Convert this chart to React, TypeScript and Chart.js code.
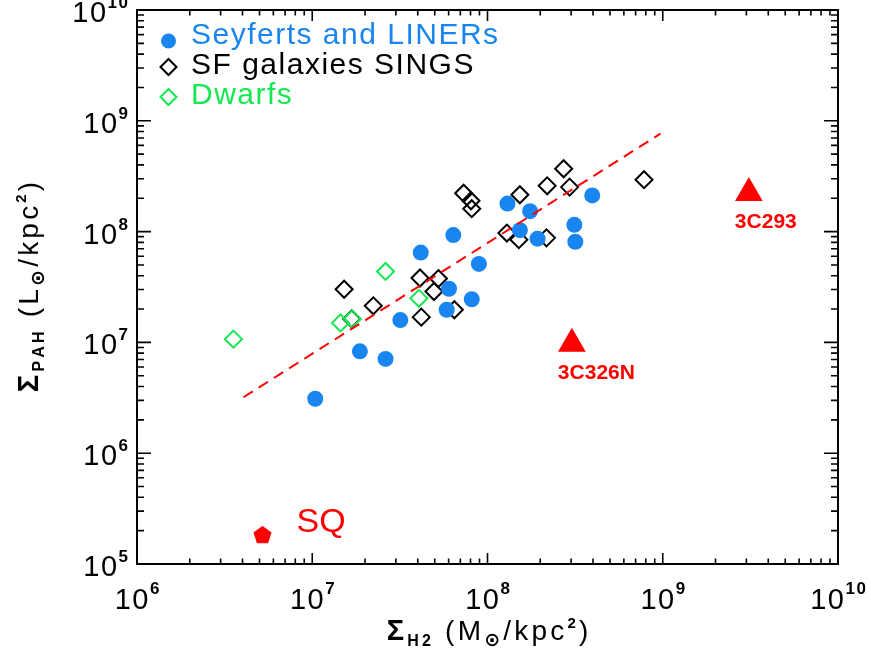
import React, { useEffect, useRef } from 'react';
import { Chart, registerables } from 'chart.js';

Chart.register(...registerables);

// ---------- data ----------
const seyfertsX = [1.04e7, 1.87e7, 2.62e7, 3.18e7, 4.16e7, 6.38e7, 8.93e7, 6.03e7, 5.85e7, 8.13e7, 1.30e8, 1.75e8, 1.53e8, 1.93e8, 3.13e8, 3.17e8, 3.96e8];
const seyfertsY = [3.1e6, 8.3e6, 7.1e6, 1.59e7, 6.47e7, 9.3e7, 5.11e7, 3.05e7, 1.97e7, 2.45e7, 1.79e8, 1.53e8, 1.03e8, 8.64e7, 1.15e8, 8.1e7, 2.12e8];

const singsX = [2.72e8, 2.19e8, 2.94e8, 1.53e8, 7.82e8, 7.31e7, 8.05e7, 8.13e7, 1.29e8, 1.51e8, 2.17e8, 1.52e7, 2.23e7, 4.12e7, 5.25e7, 4.95e7, 4.19e7, 6.47e7, 1.68e7];
const singsY = [3.69e8, 2.59e8, 2.52e8, 2.15e8, 2.94e8, 2.22e8, 1.90e8, 1.61e8, 9.7e7, 8.46e7, 8.78e7, 3.02e7, 2.14e7, 3.81e7, 3.77e7, 2.88e7, 1.69e7, 1.97e7, 1.63e7];

const dwarfsX = [3.55e6, 2.62e7, 4.06e7, 1.45e7, 1.69e7];
const dwarfsY = [1.07e7, 4.37e7, 2.5e7, 1.50e7, 1.63e7];

const radioNames = ['3C326N', '3C293'];
const radioX = [3.03e8, 3.1e9];
const radioY = [9.7e6, 2.23e8];

const sqNames = ['SQ'];
const sqX = [5.2e6];
const sqY = [1.85e5];

const fitX = [4.05e6, 9.7e8];
const fitY = [3.2e6, 7.65e8];

const xTickExponents = [6, 7, 8, 9, 10];
const yTickExponents = [5, 6, 7, 8, 9, 10];

const legendLabels = ['Seyferts and LINERs', 'SF galaxies SINGS', 'Dwarfs'];

// ---------- styles ----------
const BLUE = 'rgb(25,133,240)';
const GREEN = 'rgb(20,232,80)';
const RED = 'rgb(255,0,0)';
const FONT = '"Liberation Sans", "DejaVu Sans", sans-serif';

const toPts = (xs: number[], ys: number[]) => xs.map((x, i) => ({ x, y: ys[i] }));

function makePentagon(r: number, color: string) {
  const c = document.createElement('canvas');
  const size = Math.ceil(2 * r) + 2;
  c.width = size;
  c.height = size;
  const g = c.getContext('2d')!;
  g.fillStyle = color;
  g.beginPath();
  for (let i = 0; i < 5; i++) {
    const a = -Math.PI / 2 + (i * 2 * Math.PI) / 5;
    g.lineTo(size / 2 + r * Math.cos(a), size / 2 + 1 + r * Math.sin(a));
  }
  g.closePath();
  g.fill();
  return c;
}

type Seg = { t: string; size: number; dy: number; bold?: boolean };

function segWidth(ctx: CanvasRenderingContext2D, segs: Seg[], spacing: number) {
  let w = 0;
  for (const s of segs) {
    ctx.font = `${s.bold ? 'bold ' : ''}${s.size}px ${FONT}`;
    for (const ch of s.t) w += ctx.measureText(ch).width + spacing;
  }
  return w - spacing;
}

function drawSegs(ctx: CanvasRenderingContext2D, segs: Seg[], x: number, y: number, spacing: number) {
  let cx = x;
  ctx.textAlign = 'left';
  ctx.textBaseline = 'alphabetic';
  for (const s of segs) {
    ctx.font = `${s.bold ? 'bold ' : ''}${s.size}px ${FONT}`;
    for (const ch of s.t) {
      ctx.fillText(ch, cx, y + s.dy);
      cx += ctx.measureText(ch).width + spacing;
    }
  }
}

const overlayPlugin = {
  id: 'idlOverlay',
  afterDraw(chart: any) {
    const ctx: CanvasRenderingContext2D = chart.ctx;
    const { left, right, top, bottom } = chart.chartArea;
    const xs = chart.scales.x;
    const ys = chart.scales.y;
    ctx.save();
    ctx.strokeStyle = '#000';
    ctx.fillStyle = '#000';
    ctx.lineWidth = 2;
    ctx.strokeRect(left, top, right - left, bottom - top);

    // ticks (inward, all four sides)
    ctx.lineWidth = 1.6;
    ctx.beginPath();
    for (let d = xTickExponents[0]; d <= xTickExponents[xTickExponents.length - 1]; d++) {
      for (let m = 1; m <= 9; m++) {
        const v = m * Math.pow(10, d);
        if (v > Math.pow(10, xTickExponents[xTickExponents.length - 1])) break;
        const px = xs.getPixelForValue(v);
        const len = m === 1 ? 11 : 5.5;
        ctx.moveTo(px, bottom);
        ctx.lineTo(px, bottom - len);
        ctx.moveTo(px, top);
        ctx.lineTo(px, top + len);
      }
    }
    for (let d = yTickExponents[0]; d <= yTickExponents[yTickExponents.length - 1]; d++) {
      for (let m = 1; m <= 9; m++) {
        const v = m * Math.pow(10, d);
        if (v > Math.pow(10, yTickExponents[yTickExponents.length - 1])) break;
        const py = ys.getPixelForValue(v);
        const len = m === 1 ? 14 : 7;
        ctx.moveTo(left, py);
        ctx.lineTo(left + len, py);
        ctx.moveTo(right, py);
        ctx.lineTo(right - len, py);
      }
    }
    ctx.stroke();

    // tick labels
    ctx.fillStyle = '#000';
    for (const e of xTickExponents) {
      const px = xs.getPixelForValue(Math.pow(10, e));
      const segs: Seg[] = [
        { t: '10', size: 29, dy: 0 },
        { t: String(e), size: 17, dy: -15, bold: true },
      ];
      const w = segWidth(ctx, segs, 1.5);
      drawSegs(ctx, segs, px - w / 2, bottom + 45, 1.5);
    }
    for (const e of yTickExponents) {
      const py = ys.getPixelForValue(Math.pow(10, e));
      const segs: Seg[] = [
        { t: '10', size: 29, dy: 0 },
        { t: String(e), size: 17, dy: -14, bold: true },
      ];
      const w = segWidth(ctx, segs, 1.5);
      drawSegs(ctx, segs, left - 9 - w, py + 12, 1.5);
    }

    // axis titles
    const xt: Seg[] = [
      { t: 'Σ', size: 29, dy: 0, bold: true },
      { t: 'H2', size: 16, dy: 6, bold: true },
      { t: ' (M', size: 28, dy: 0 },
      { t: '⊙', size: 19, dy: 6, bold: true },
      { t: '/kpc', size: 28, dy: 0 },
      { t: '2', size: 15, dy: -12, bold: true },
      { t: ')', size: 28, dy: 0 },
    ];
    const xw = segWidth(ctx, xt, 3.2);
    drawSegs(ctx, xt, (left + right) / 2 - xw / 2, bottom + 76, 3.2);

    const yt: Seg[] = [
      { t: 'Σ', size: 29, dy: 0, bold: true },
      { t: 'PAH', size: 16, dy: 6, bold: true },
      { t: ' (L', size: 28, dy: 0 },
      { t: '⊙', size: 19, dy: 6, bold: true },
      { t: '/kpc', size: 28, dy: 0 },
      { t: '2', size: 15, dy: -12, bold: true },
      { t: ')', size: 28, dy: 0 },
    ];
    const yw = segWidth(ctx, yt, 3.2);
    ctx.save();
    ctx.translate(38, (top + bottom) / 2);
    ctx.rotate(-Math.PI / 2);
    drawSegs(ctx, yt, -yw / 2, 0, 3.2);
    ctx.restore();

    // point labels
    ctx.fillStyle = RED;
    radioNames.forEach((name, i) => {
      const px = xs.getPixelForValue(radioX[i]);
      const py = ys.getPixelForValue(radioY[i]);
      ctx.font = `bold 21px ${FONT}`;
      ctx.textAlign = 'left';
      ctx.fillText(name, px - 14, py + 35);
    });
    sqNames.forEach((name, i) => {
      const px = xs.getPixelForValue(sqX[i]);
      const py = ys.getPixelForValue(sqY[i]);
      ctx.font = `34px ${FONT}`;
      ctx.textAlign = 'left';
      ctx.fillText(name, px + 34, py - 2);
    });

    // legend
    const lx = left + 31.5;
    const rows = [top + 31, top + 57, top + 87];
    ctx.fillStyle = BLUE;
    ctx.beginPath();
    ctx.arc(lx, rows[0], 7.5, 0, Math.PI * 2);
    ctx.fill();
    const diamond = (cx: number, cy: number, color: string) => {
      ctx.strokeStyle = color;
      ctx.lineWidth = 2;
      ctx.beginPath();
      ctx.moveTo(cx - 8, cy);
      ctx.lineTo(cx, cy - 8);
      ctx.lineTo(cx + 8, cy);
      ctx.lineTo(cx, cy + 8);
      ctx.closePath();
      ctx.stroke();
    };
    diamond(lx, rows[1], '#000');
    diamond(lx, rows[2], GREEN);
    const colors = [BLUE, '#000', GREEN];
    legendLabels.forEach((lab, i) => {
      ctx.fillStyle = colors[i];
      drawSegs(ctx, [{ t: lab, size: 30, dy: 0 }], left + 54, rows[i] + 3 + (i === 0 ? 0 : 4), 1.5);
    });
    ctx.restore();
  },
};

export default function App() {
  const ref = useRef<HTMLCanvasElement | null>(null);
  useEffect(() => {
    if (!ref.current) return;
    const pent = makePentagon(9.5, RED);
    const chart = new Chart(ref.current, {
      type: 'scatter',
      data: {
        datasets: [
          {
            type: 'line',
            label: 'Fit',
            data: toPts(fitX, fitY),
            borderColor: RED,
            borderWidth: 2,
            borderDash: [11, 7],
            pointRadius: 0,
            showLine: true,
            fill: false,
          } as any,
          {
            label: legendLabels[0],
            data: toPts(seyfertsX, seyfertsY),
            pointStyle: 'circle',
            pointRadius: 8,
            backgroundColor: BLUE,
            borderWidth: 0,
          },
          {
            label: legendLabels[2],
            data: toPts(dwarfsX, dwarfsY),
            pointStyle: 'rectRot',
            pointRadius: 8.5,
            backgroundColor: 'rgba(0,0,0,0)',
            borderColor: GREEN,
            borderWidth: 2,
          },
          {
            label: legendLabels[1],
            data: toPts(singsX, singsY),
            pointStyle: 'rectRot',
            pointRadius: 8.5,
            backgroundColor: 'rgba(0,0,0,0)',
            borderColor: '#000',
            borderWidth: 2,
          },
          {
            label: 'Radio galaxies',
            data: toPts(radioX, radioY),
            pointStyle: 'triangle',
            pointRadius: 16,
            backgroundColor: RED,
            borderColor: RED,
            borderWidth: 0,
          },
          {
            label: 'SQ',
            data: toPts(sqX, sqY),
            pointStyle: pent as any,
            pointRadius: 10,
            backgroundColor: RED,
          },
        ],
      },
      options: {
        responsive: false,
        animation: false,
        events: [],
        layout: { padding: { top: 10, right: 33, left: 0, bottom: 0 }, autoPadding: false } as any,
        plugins: { legend: { display: false }, tooltip: { enabled: false }, title: { display: false } },
        scales: {
          x: {
            type: 'logarithmic',
            min: 1e6,
            max: 1e10,
            position: 'bottom',
            grid: { display: false, drawTicks: false },
            border: { display: false },
            ticks: { display: false },
            afterFit: (s: any) => { s.height = 97; },
          } as any,
          y: {
            type: 'logarithmic',
            min: 1e5,
            max: 1e10,
            position: 'left',
            grid: { display: false, drawTicks: false },
            border: { display: false },
            ticks: { display: false },
            afterFit: (s: any) => { s.width = 137; },
          } as any,
        },
      },
      plugins: [overlayPlugin],
    });
    return () => chart.destroy();
  }, []);
  return (
    <div style={{ position: 'absolute', left: 0, top: 0, width: 871, height: 661, background: '#fff' }}>
      <canvas ref={ref} width={871} height={661} style={{ display: 'block' }} />
    </div>
  );
}
